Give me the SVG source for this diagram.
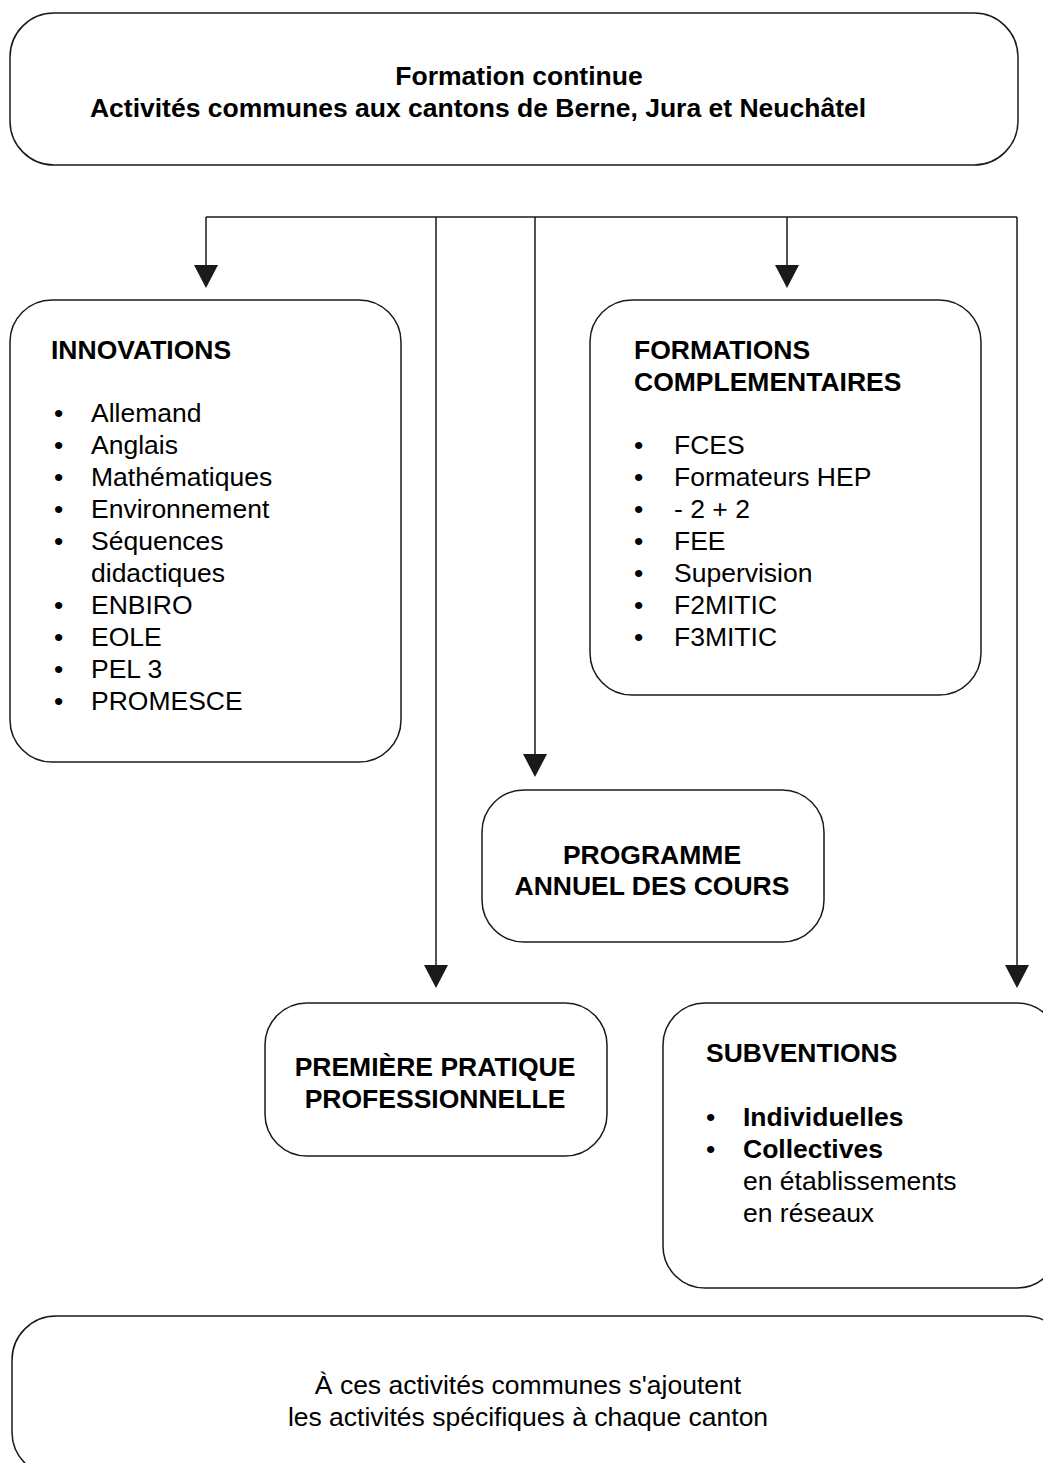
<svg xmlns="http://www.w3.org/2000/svg" width="1043" height="1463" viewBox="0 0 1043 1463">
<style>
.box{fill:#fff;stroke:#1a1a1a;stroke-width:1.5}
.t{font-family:"Liberation Sans",Arial,sans-serif;font-size:26.5px;fill:#000}
.b{font-weight:bold}
.h{font-family:"Liberation Sans",Arial,sans-serif;font-size:26.5px;font-weight:bold;fill:#000}
.c{text-anchor:middle}
.ln{fill:none;stroke:#1a1a1a;stroke-width:1.5}
.ah{fill:#1a1a1a}
</style>
<rect width="1043" height="1463" fill="#fff"/>
<g id="top">
<rect class="box" x="10" y="13" width="1008" height="152" rx="44"/>
<text class="h c" x="519" y="85">Formation continue</text>
<text class="h c" x="478" y="117">Activités communes aux cantons de Berne, Jura et Neuchâtel</text>
</g>
<g id="connectors">
<path class="ln" d="M206 217H1017M206 217V268M436 217V968M535 217V757M787 217V268M1017 217V968"/>
<path class="ah" d="M194 265h24l-12 23z M424 965h24l-12 23z M523 754h24l-12 23z M775 265h24l-12 23z M1005 965h24l-12 23z"/>
</g>
<g id="innovations">
<rect class="box" x="10" y="300" width="391" height="462" rx="42"/>
<text class="h" x="51" y="359">INNOVATIONS</text>
<g class="t">
<text x="54" y="422">•</text><text x="91" y="422">Allemand</text>
<text x="54" y="454">•</text><text x="91" y="454">Anglais</text>
<text x="54" y="486">•</text><text x="91" y="486">Mathématiques</text>
<text x="54" y="518">•</text><text x="91" y="518">Environnement</text>
<text x="54" y="550">•</text><text x="91" y="550">Séquences</text>
<text x="91" y="582">didactiques</text>
<text x="54" y="614">•</text><text x="91" y="614">ENBIRO</text>
<text x="54" y="646">•</text><text x="91" y="646">EOLE</text>
<text x="54" y="678">•</text><text x="91" y="678">PEL 3</text>
<text x="54" y="710">•</text><text x="91" y="710">PROMESCE</text>
</g>
</g>
<g id="formations">
<rect class="box" x="590" y="300" width="391" height="395" rx="42"/>
<text class="h" x="634" y="359">FORMATIONS</text>
<text class="h" x="634" y="391">COMPLEMENTAIRES</text>
<g class="t">
<text x="634" y="454">•</text><text x="674" y="454">FCES</text>
<text x="634" y="486">•</text><text x="674" y="486">Formateurs HEP</text>
<text x="634" y="518">•</text><text x="674" y="518">- 2 + 2</text>
<text x="634" y="550">•</text><text x="674" y="550">FEE</text>
<text x="634" y="582">•</text><text x="674" y="582">Supervision</text>
<text x="634" y="614">•</text><text x="674" y="614">F2MITIC</text>
<text x="634" y="646">•</text><text x="674" y="646">F3MITIC</text>
</g>
</g>
<g id="programme">
<rect class="box" x="482" y="790" width="342" height="152" rx="42"/>
<text class="h c" x="652" y="864">PROGRAMME</text>
<text class="h c" x="652" y="895">ANNUEL DES COURS</text>
</g>
<g id="premiere">
<rect class="box" x="265" y="1003" width="342" height="153" rx="42"/>
<text class="h c" x="435" y="1076">PREMIÈRE PRATIQUE</text>
<text class="h c" x="435" y="1108">PROFESSIONNELLE</text>
</g>
<g id="subventions">
<rect class="box" x="663" y="1003" width="396" height="285" rx="42"/>
<text class="h" x="706" y="1062">SUBVENTIONS</text>
<g class="t">
<text x="706" y="1126">•</text><text class="b" x="743" y="1126">Individuelles</text>
<text x="706" y="1158">•</text><text class="b" x="743" y="1158">Collectives</text>
<text x="743" y="1190">en établissements</text>
<text x="743" y="1222">en réseaux</text>
</g>
</g>
<g id="bottom">
<rect class="box" x="12" y="1316" width="1057" height="160" rx="44"/>
<text class="t c" x="528" y="1394">À ces activités communes s'ajoutent</text>
<text class="t c" x="528" y="1426">les activités spécifiques à chaque canton</text>
</g>
</svg>
